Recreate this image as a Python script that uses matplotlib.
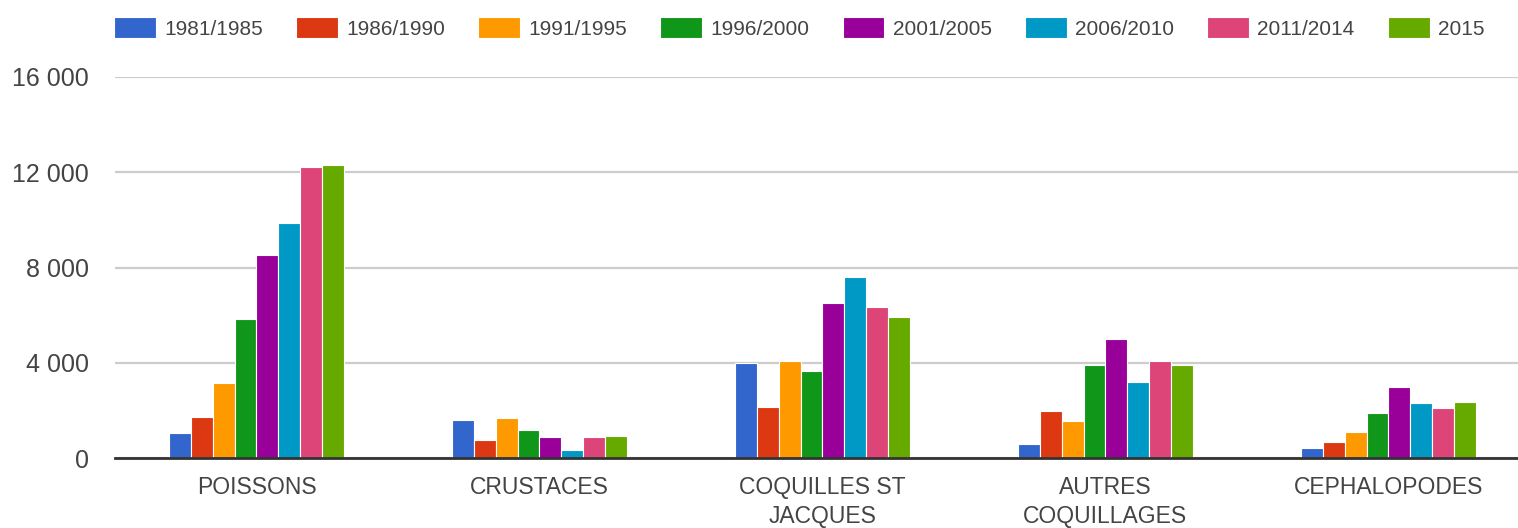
import numpy as np
import matplotlib
matplotlib.use("Agg")
import matplotlib.pyplot as plt
import matplotlib.ticker as ticker

plt.rcParams['font.family'] = ['Liberation Sans', 'DejaVu Sans']

# Débarquements par catégorie et par période
categories = ["POISSONS", "CRUSTACES", "COQUILLES ST\nJACQUES", "AUTRES\nCOQUILLAGES", "CEPHALOPODES"]
periods = ["1981/1985", "1986/1990", "1991/1995", "1996/2000",
           "2001/2005", "2006/2010", "2011/2014", "2015"]

p1981_1985 = [1050, 1610, 3970, 600, 435]
p1986_1990 = [1710, 770, 2130, 1970, 690]
p1991_1995 = [3140, 1700, 4060, 1545, 1110]
p1996_2000 = [5830, 1190, 3640, 3890, 1870]
p2001_2005 = [8510, 870, 6500, 4980, 2975]
p2006_2010 = [9870, 350, 7610, 3210, 2290]
p2011_2014 = [12220, 870, 6330, 4060, 2120]
p2015 = [12290, 940, 5910, 3890, 2370]

series = [p1981_1985, p1986_1990, p1991_1995, p1996_2000,
          p2001_2005, p2006_2010, p2011_2014, p2015]
colors = ["#3366cc", "#dc3912", "#ff9900", "#109618",
          "#990099", "#0099c6", "#dd4477", "#66aa00"]

W, H = 1518, 528
fig = plt.figure(figsize=(W / 100, H / 100), dpi=100)
ax = fig.add_axes([115 / W, (H - 458) / H, (W - 115) / W, (458 - 77) / H])

x = np.arange(len(categories))
bw = 0.0773
for i, (vals, col) in enumerate(zip(series, colors)):
    offs = (i - (len(series) - 1) / 2) * bw
    ax.bar(x + offs, vals, width=bw, color=col, edgecolor="white",
           linewidth=0.8, label=periods[i], zorder=3)

ax.set_xlim(-0.5, 4.458)
ax.set_ylim(0, 16000)
ax.set_yticks(np.arange(0, 16001, 4000))
ax.yaxis.set_major_formatter(ticker.FuncFormatter(lambda v, _: f"{int(v):,}".replace(",", " ")))
ax.set_xticks(x)
ax.set_xticklabels(categories, linespacing=1.35)

ax.grid(axis="y", color="#cccccc", linewidth=1.6, zorder=0)
for s in ["top", "right", "left"]:
    ax.spines[s].set_visible(False)
ax.spines["bottom"].set_color("#333333")
ax.spines["bottom"].set_linewidth(2)
ax.spines["bottom"].set_zorder(4)
ax.tick_params(axis="both", length=0, colors="#444444")
ax.tick_params(axis="y", labelsize=18, pad=19)
ax.tick_params(axis="x", labelsize=16.5, pad=13)

fig.legend(loc="upper left", bbox_to_anchor=(114 / W, 1 - 17 / H), ncol=8,
           frameon=False, fontsize=15, handlelength=2.0, handleheight=1.2,
           handletextpad=0.4, columnspacing=1.6, borderpad=0, borderaxespad=0,
           labelcolor="#444444")

fig.savefig("out.png", dpi=100)
